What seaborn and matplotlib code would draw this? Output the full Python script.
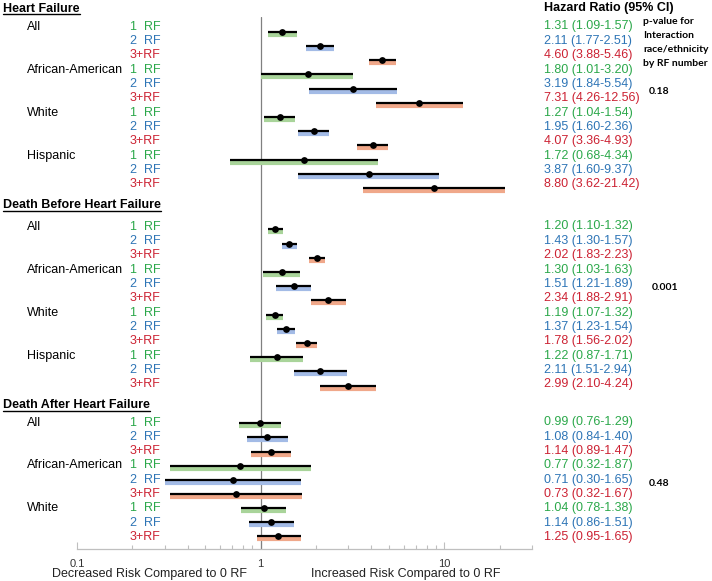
import numpy as np
import pandas as pd
import matplotlib
matplotlib.use("Agg")
import matplotlib.pyplot as plt
import matplotlib.transforms as mtransforms
from matplotlib.lines import Line2D
from matplotlib.ticker import FixedLocator, NullFormatter
import seaborn as sns

# ---------------- data ----------------
sections = ["Heart Failure", "Death Before Heart Failure", "Death After Heart Failure"]
hf_groups = ["All", "African-American", "White", "Hispanic"]
dbhf_groups = ["All", "African-American", "White", "Hispanic"]
dahf_groups = ["All", "African-American", "White"]
rf_labels = ["1  RF", "2  RF", "3+RF"]

hf_hr = [1.31, 2.11, 4.60, 1.80, 3.19, 7.31, 1.27, 1.95, 4.07, 1.72, 3.87, 8.80]
hf_lo = [1.09, 1.77, 3.88, 1.01, 1.84, 4.26, 1.04, 1.60, 3.36, 0.68, 1.60, 3.62]
hf_hi = [1.57, 2.51, 5.46, 3.20, 5.54, 12.56, 1.54, 2.36, 4.93, 4.34, 9.37, 21.42]

dbhf_hr = [1.20, 1.43, 2.02, 1.30, 1.51, 2.34, 1.19, 1.37, 1.78, 1.22, 2.11, 2.99]
dbhf_lo = [1.10, 1.30, 1.83, 1.03, 1.21, 1.88, 1.07, 1.23, 1.56, 0.87, 1.51, 2.10]
dbhf_hi = [1.32, 1.57, 2.23, 1.63, 1.89, 2.91, 1.32, 1.54, 2.02, 1.71, 2.94, 4.24]

dahf_hr = [0.99, 1.08, 1.14, 0.77, 0.71, 0.73, 1.04, 1.14, 1.25]
dahf_lo = [0.76, 0.84, 0.89, 0.32, 0.30, 0.32, 0.78, 0.86, 0.95]
dahf_hi = [1.29, 1.40, 1.47, 1.87, 1.65, 1.67, 1.38, 1.51, 1.65]

p_values = ["0.18", "0.001", "0.48"]
p_header = ["p-value for", "Interaction", "race/ethnicity", "by RF number"]
x_ticks = [0.1, 1, 10]
x_tick_labels = ["0.1", "1", "10"]
x_minor = [0.2, 0.3, 0.4, 0.5, 0.6, 0.7, 0.8, 0.9, 2, 3, 4, 5, 6, 7, 8, 9, 20, 30]

# ---------------- styling / layout ----------------
W, H = 712, 581
text_colors = ["#2ba84a", "#2e75b6", "#cc2233"]
shade_colors = ["#a9d49a", "#a3bbe6", "#f0a88a"]

section_groups = [hf_groups, dbhf_groups, dahf_groups]
section_data = [(hf_hr, hf_lo, hf_hi), (dbhf_hr, dbhf_lo, dbhf_hi), (dahf_hr, dahf_lo, dahf_hi)]
first_row_px = [25, 225, 421]
row_step_px = [14.36, 14.36, 14.3]
header_px = [8, 205, 405]
pval_px = [91, 287, 483]

rows = []
for s, (groups, (hr, lo, hi)) in enumerate(zip(section_groups, section_data)):
    k = 0
    for g in groups:
        for r, rf in enumerate(rf_labels):
            ty = first_row_px[s] + row_step_px[s] * k
            rows.append(dict(section=s, group=g, rf=rf, rfi=r, first=(r == 0),
                             hr=hr[k], lo=lo[k], hi=hi[k], text_y=ty))
            k += 1
df = pd.DataFrame(rows)
df["line_y"] = 7.0 + 0.9888 * df["text_y"]

sns.set_theme(style="white")
plt.rcParams["font.family"] = ["Liberation Sans", "DejaVu Sans"]

fig = plt.figure(figsize=(W / 100, H / 100), dpi=100)
ax = fig.add_axes([77 / W, 1 - 549 / H, (532 - 77) / W, (549 - 17) / H])

# shaded lines under CI
ax.hlines(df["line_y"] + 3.0, df["lo"], df["hi"],
          colors=[shade_colors[i] for i in df["rfi"]], lw=3.0, zorder=2)
ax.hlines(df["line_y"], df["lo"], df["hi"], colors="black", lw=1.6, zorder=3)
sns.scatterplot(data=df, x="hr", y="line_y", color="black", s=24, linewidth=0,
                ax=ax, zorder=4, legend=False)
ax.axvline(1, color="#808080", lw=0.9, zorder=1)

ax.set_xscale("log")
ax.set_xlim(0.1, 30)
ax.set_ylim(549, 17)
ax.set_xlabel("")
ax.set_ylabel("")
ax.set_yticks([])
ax.xaxis.set_major_locator(FixedLocator(x_ticks))
ax.set_xticklabels(x_tick_labels)
ax.xaxis.set_minor_locator(FixedLocator(x_minor))
ax.xaxis.set_minor_formatter(NullFormatter())
ax.tick_params(axis="x", which="major", direction="in", length=5, width=0.8,
               color="#bfbfbf", labelsize=8, labelcolor="#333333", pad=7, bottom=True)
ax.tick_params(axis="x", which="minor", direction="in", length=3, width=0.8,
               color="#bfbfbf", bottom=True)
for sp in ["left", "top", "right"]:
    ax.spines[sp].set_visible(False)
ax.spines["bottom"].set_color("#bfbfbf")
ax.spines["bottom"].set_linewidth(0.9)
ax.patch.set_alpha(0)

tr = mtransforms.blended_transform_factory(fig.transFigure, ax.transData)
BL = 4.5  # baseline offset from visual centre (px) for 9pt text

# left labels and right HR text
for _, row in df.iterrows():
    y = row["text_y"] + BL
    if row["first"]:
        ax.text(27 / W, y, row["group"], transform=tr, fontsize=9, va="baseline",
                ha="left", color="black")
    col = text_colors[row["rfi"]]
    ax.text(130 / W, y, row["rf"], transform=tr, fontsize=9, va="baseline",
            ha="left", color=col)
    ax.text(544 / W, y, f"{row['hr']:.2f} ({row['lo']:.2f}-{row['hi']:.2f})",
            transform=tr, fontsize=9, va="baseline", ha="left", color=col)

# section headers (bold, underlined)
header_texts = []
for s, name in enumerate(sections):
    t = ax.text(3 / W, header_px[s] + 3.5, name, transform=tr, fontsize=9,
                fontweight="bold", va="baseline", ha="left", color="black")
    header_texts.append((t, header_px[s] + 3.5))

ax.text(544 / W, 8 + 3.5, "Hazard Ratio (95% CI)", transform=tr, fontsize=9,
        fontweight="bold", va="baseline", ha="left", color="black")

for i, line in enumerate(p_header):
    ax.text(643 / W, 21 + 14 * i + 3.5, line, transform=tr, fontsize=7.5,
            fontweight="bold", family=["Lato", "DejaVu Sans"], va="baseline",
            ha="left", color="black")
for s, pv in enumerate(p_values):
    ax.text((659 if s != 1 else 665) / W, pval_px[s] + 3.5, pv, transform=tr,
            fontsize=7.5, fontweight="bold", family=["Lato", "DejaVu Sans"],
            va="baseline", ha="center", color="black")

fig.text(150 / W, 1 - 577 / H, "Decreased Risk Compared to 0 RF", fontsize=9,
         ha="center", va="baseline", color="#222222")
fig.text(406 / W, 1 - 577 / H, "Increased Risk Compared to 0 RF", fontsize=9,
         ha="center", va="baseline", color="#222222")

# underline the headers
fig.canvas.draw()
renderer = fig.canvas.get_renderer()
for t, base in header_texts:
    bb = t.get_window_extent(renderer)
    yfig = 1 - (base + 2.3) / H
    fig.add_artist(Line2D([bb.x0 / W, bb.x1 / W], [yfig, yfig],
                          transform=fig.transFigure, color="black", lw=1.0))

fig.savefig("out.png", dpi=100)
